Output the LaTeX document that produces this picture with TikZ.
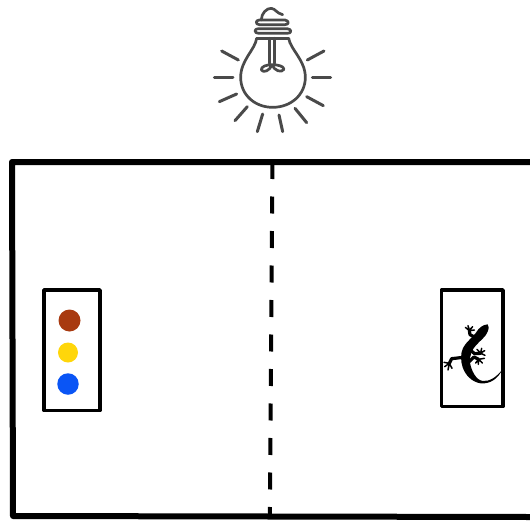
\documentclass[tikz,border=0pt]{standalone}
\definecolor{bulbgray}{HTML}{4A4A4A}
\definecolor{dotbrown}{HTML}{A83A10}
\definecolor{dotyellow}{HTML}{FFD60A}
\definecolor{dotblue}{HTML}{0A55F5}
\tikzset{
  wall/.style={line width=6pt,line cap=butt,line join=round},
  divider/.style={line width=4pt,dash pattern=on 17pt off 17.5pt},
  cage/.style={line width=3.4pt,line join=round},
  bulbline/.style={bulbgray,line width=2.7pt,line cap=round,line join=round},
  ray/.style={bulbgray,line width=3pt,line cap=round},
  dot/.style={circle,inner sep=0pt,minimum size=#1},
  limb/.style={black,line width=3.2pt,line cap=round,line join=round},
  toe/.style={black,line width=1.5pt,line cap=round},
}
\begin{document}
\begin{tikzpicture}[x=1pt,y=-1pt]
\useasboundingbox (0,0) rectangle (530,525);
% room
\coordinate (wallTR) at (530,162);
\coordinate (wallTL) at (12,162);
\coordinate (wallBL) at (13,516);
\coordinate (wallBR) at (530,517);
\coordinate (divT) at (272.5,162);
\coordinate (divB) at (269.8,516);
\draw[wall] (wallTR) -- (wallTL) -- (wallBL) -- (wallBR);
\draw[divider] (divT) -- (divB);
% left cage
\draw[cage] (44,290) rectangle (100,410.5);
\node[dot=22pt,fill=dotbrown] (brown) at (69.5,320.5) {};
\node[dot=20pt,fill=dotyellow] (yellow) at (68,352.5) {};
\node[dot=21.5pt,fill=dotblue] (blue) at (68,384) {};
% right cage
\draw[cage] (441.5,290) rectangle (503,406.5);
% gecko
\begin{scope}[shift={(440,320)},x=0.3333pt,y=-0.3333pt]
\fill[black] (143,13) .. controls (128,14) and (116,24) .. (108,38)
  .. controls (98,52) and (78,66) .. (69,84)
  .. controls (61,100) and (62,125) .. (68,142)
  .. controls (76,165) and (95,186) .. (122,190)
  .. controls (150,193) and (175,175) .. (186,150)
  .. controls (170,170) and (150,185) .. (128,183)
  .. controls (108,180) and (94,152) .. (90,128)
  .. controls (88,108) and (96,88) .. (108,76)
  .. controls (120,62) and (138,50) .. (143,35)
  .. controls (147,24) and (147,18) .. (143,13) -- cycle;
\draw[limb] (102,50) -- (90,44) -- (88,32);
\draw[toe] (88,32) -- (76,22) (88,30) -- (84,17) (89,30) -- (98,20) (89,32) -- (103,30);
\draw[limb] (88,88) -- (104,101) -- (122,100);
\draw[toe] (122,100) -- (111,88) (122,99) -- (125,85) (122,99) -- (134,92) (122,100) -- (135,106);
\draw[limb] (84,128) -- (102,111) -- (116,118);
\draw[toe] (116,118) -- (107,129) (116,118) -- (115,133) (116,118) -- (127,129) (116,118) -- (133,115);
\draw[limb] (70,112) -- (35,116) -- (28,130);
\draw[toe] (28,130) -- (12,127) (28,130) -- (14,140) (28,130) -- (24,150) (28,130) -- (36,145);
\end{scope}
% bulb
\begin{scope}[shift={(200,0)},x=0.3333pt,y=-0.3333pt]
\draw[bulbline] (170,115) .. controls (165,150) and (122,180) .. (122,232)
  .. controls (122,285) and (165,322) .. (218,322)
  .. controls (272,322) and (316,285) .. (316,232)
  .. controls (316,180) and (272,150) .. (266,115);
\draw[bulbline] (170,115) -- (266,115);
\draw[bulbline] (175,86) -- (262,86) .. controls (276,88) and (276,100) .. (262,100)
  -- (176,100) .. controls (162,100) and (162,86) .. (175,86);
\draw[bulbline] (178,60) -- (255,60) .. controls (268,62) and (268,74) .. (255,74)
  -- (178,74) .. controls (166,74) and (166,60) .. (178,60);
\draw[bulbline] (184,60) .. controls (184,40) and (200,24) .. (214,25)
  .. controls (226,26) and (230,40) .. (248,44);
\draw[bulbline] (208,115) -- (208,190) (224,115) -- (224,190);
\draw[bulbline] (216,194) .. controls (200,194) and (182,200) .. (184,210)
  .. controls (190,220) and (210,212) .. (216,194)
  .. controls (222,212) and (245,220) .. (252,208)
  .. controls (252,198) and (232,194) .. (216,194);
\draw[ray] (65,153) -- (115,180);
\draw[ray] (43,234) -- (99,234);
\draw[ray] (58,305) -- (110,282);
\draw[ray] (105,362) -- (142,320);
\draw[ray] (172,395) -- (188,342);
\draw[ray] (248,395) -- (237,345);
\draw[ray] (320,368) -- (285,325);
\draw[ray] (370,317) -- (320,290);
\draw[ray] (392,234) -- (337,234);
\draw[ray] (372,153) -- (322,180);
\end{scope}
\end{tikzpicture}
\end{document}
